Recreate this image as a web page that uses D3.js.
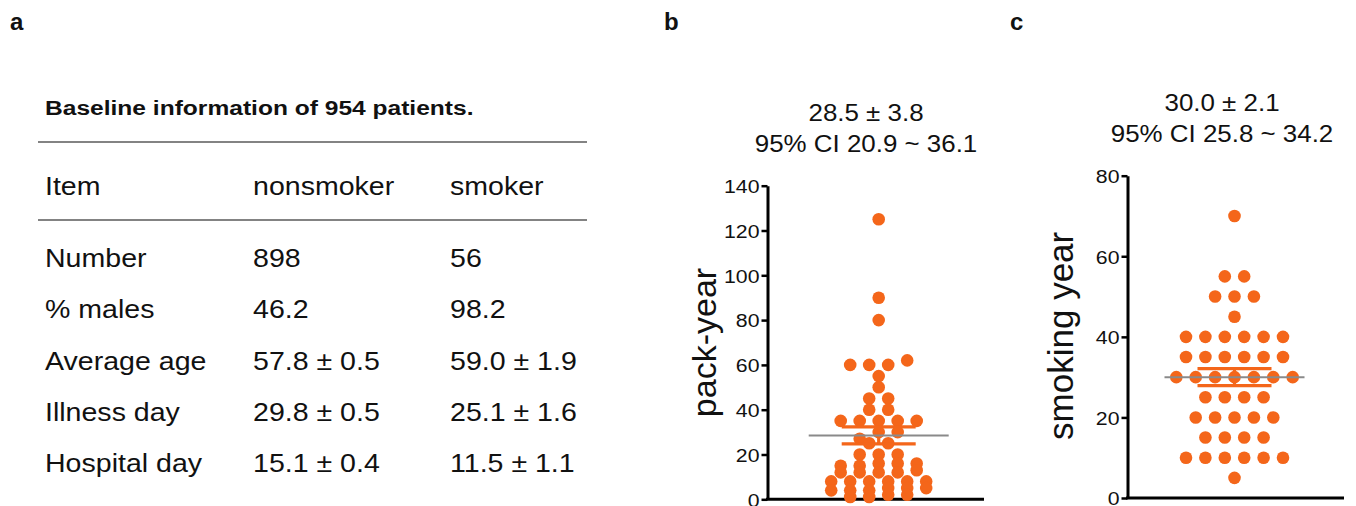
<!DOCTYPE html>
<html><head><meta charset="utf-8">
<script src="https://cdn.jsdelivr.net/npm/d3@7"></script>
<style>
body{margin:0;background:#fff}
svg{display:block}
text{font-family:"Liberation Sans",Arial,Helvetica,sans-serif;fill:#111}
</style></head>
<body><svg id="chart" width="1356" height="506"></svg>
<script>
// ---------- data ----------
const panelLetters = ["a", "b", "c"];
const tableTitle = "Baseline information of 954 patients.";
const tableHeader = ["Item", "nonsmoker", "smoker"];
const tableItems = ["Number", "% males", "Average age", "Illness day", "Hospital day"];
const nonsmokerValues = ["898", "46.2", "57.8 \u00b1 0.5", "29.8 \u00b1 0.5", "15.1 \u00b1 0.4"];
const smokerValues = ["56", "98.2", "59.0 \u00b1 1.9", "25.1 \u00b1 1.6", "11.5 \u00b1 1.1"];

const packYear = [125, 90, 80, 62, 60, 60, 60, 55, 50, 45, 45, 40, 40,
  35, 35, 35, 35, 35, 30, 30, 27, 25, 25,
  20, 20, 20, 16, 16, 16, 15, 15, 13, 12, 12, 12, 12,
  8, 8, 8, 8, 8, 8, 5, 5, 5, 4, 4, 4, 2, 2, 1, 1];
const smokingYear = [70, 55, 55, 50, 50, 50, 45,
  40, 40, 40, 40, 40, 40, 35, 35, 35, 35, 35, 35,
  30, 30, 30, 30, 30, 30, 30, 25, 25, 25, 25,
  20, 20, 20, 20, 20, 15, 15, 15, 15, 10, 10, 10, 10, 10, 10, 5];

const packYearTicks = [0, 20, 40, 60, 80, 100, 120, 140];
const smokingYearTicks = [0, 20, 40, 60, 80];
const axisTitles = ["pack-year", "smoking year"];
const summaryMean = [28.5, 30.0];
const summarySem = [3.8, 2.1];
const summaryLine1 = ["28.5 \u00b1 3.8", "30.0 \u00b1 2.1"];
const summaryLine2 = ["95% CI 20.9 ~ 36.1", "95% CI 25.8 ~ 34.2"];

// ---------- drawing ----------
const svg = d3.select("#chart");
const ORANGE = "#F4661A";
const SX = 1.12; // horizontal text stretch of the source figure

function stretchedText(g, x, y, str, opts) {
  const t = g.append("text")
    .attr("transform", `translate(${x},${y}) scale(${opts.sx || SX},1)`)
    .attr("font-size", opts.size)
    .attr("text-anchor", opts.anchor || "start")
    .text(str);
  if (opts.bold) t.attr("font-weight", "bold");
  return t;
}

// panel letters
const letterX = [10, 664, 1010];
panelLetters.forEach((l, i) => stretchedText(svg, letterX[i], 30, l, {size: 24, bold: true, sx: 1.0}));

// ---------- panel a: table ----------
const tg = svg.append("g");
stretchedText(tg, 45, 115, tableTitle, {size: 21, bold: true, sx: 1.17});
tg.selectAll("line.rule").data([142, 220]).join("line")
  .attr("class", "rule").attr("x1", 38).attr("x2", 587)
  .attr("y1", d => d).attr("y2", d => d)
  .attr("stroke", "#5a5a5a").attr("stroke-width", 1.5);
const colX = d3.scaleOrdinal().domain([0, 1, 2]).range([45, 253, 450]);
const TF = {size: 25.5, sx: 1.12};
tableHeader.forEach((h, i) => stretchedText(tg, colX(i), 195, h, TF));
const rowY = d3.scalePoint().domain(tableItems).range([267, 472]);
tableItems.forEach((it, r) => {
  stretchedText(tg, colX(0), rowY(it), it, TF);
  stretchedText(tg, colX(1), rowY(it), nonsmokerValues[r], TF);
  stretchedText(tg, colX(2), rowY(it), smokerValues[r], TF);
});

// ---------- dot plots ----------
function layout(values, binSize, binOffset, cx, spacing) {
  const groups = d3.group(values.map((v, i) => ({v, i})), d => Math.round((d.v - binOffset) / binSize));
  const out = [];
  for (const [, arr] of groups) {
    arr.sort((a, b) => a.v - b.v);
    const n = arr.length;
    arr.forEach((d, k) => out.push({v: d.v, x: cx + (k - (n - 1) / 2) * spacing}));
  }
  return out;
}

function dotPanel(cfg) {
  const g = svg.append("g");
  const y = d3.scaleLinear().domain([0, cfg.max]).range([cfg.y0, cfg.y1]);
  // axis
  const ax = g.append("g").attr("transform", `translate(${cfg.axisX},0)`)
    .call(d3.axisLeft(y).tickValues(cfg.ticks).tickSize(6).tickSizeOuter(0).tickPadding(2));
  ax.select(".domain").attr("stroke", "#000").attr("stroke-width", 3);
  ax.selectAll(".tick line").attr("stroke", "#000").attr("stroke-width", 2.5);
  ax.selectAll(".tick text").each(function (d) {
    const t = d3.select(this);
    t.attr("font-size", 19).attr("font-family", null).attr("fill", "#111")
      .attr("transform", `translate(-8,0) scale(${SX},1)`).attr("x", 0).attr("dy", "0.36em");
  });
  // baseline
  g.append("line").attr("x1", cfg.axisX - 1.5).attr("x2", cfg.baseEnd)
    .attr("y1", y(0)).attr("y2", y(0)).attr("stroke", "#000").attr("stroke-width", 3);
  // axis title
  g.append("text").attr("transform", `translate(${cfg.titleX},${(cfg.y0 + cfg.y1) / 2 + cfg.titleDy}) rotate(-90)`)
    .attr("text-anchor", "middle").attr("font-size", cfg.titleSize).text(cfg.title);
  // dots
  const pts = layout(cfg.values, cfg.binSize, cfg.binOffset, cfg.cx, cfg.spacing);
  g.selectAll("circle").data(pts).join("circle")
    .attr("cx", d => d.x).attr("cy", d => y(d.v)).attr("r", 6.3).attr("fill", ORANGE);
  // SEM error bar
  const m = cfg.mean, s = cfg.sem;
  g.append("path").attr("fill", "none").attr("stroke", ORANGE).attr("stroke-width", 3.2)
    .attr("d", `M${cfg.cx - 37},${y(m + s)}H${cfg.cx + 37}M${cfg.cx},${y(m + s)}V${y(m - s)}M${cfg.cx - 37},${y(m - s)}H${cfg.cx + 37}`);
  // mean line
  g.append("line").attr("x1", cfg.cx - 70).attr("x2", cfg.cx + 70)
    .attr("y1", y(m)).attr("y2", y(m)).attr("stroke", "#8a8a8a").attr("stroke-width", 2);
  // summary text
  stretchedText(g, cfg.textX, cfg.textY, cfg.line1, {size: 24, anchor: "middle", sx: 1.08});
  stretchedText(g, cfg.textX, cfg.textY + 31, cfg.line2, {size: 24, anchor: "middle", sx: 1.08});
}

dotPanel({values: packYear, max: 140, ticks: packYearTicks, y0: 499.3, y1: 185.7,
  axisX: 767.5, baseEnd: 984, cx: 878.7, spacing: 19, binSize: 4, binOffset: 1,
  title: axisTitles[0], titleX: 716, titleDy: 0, titleSize: 34,
  mean: summaryMean[0], sem: summarySem[0], line1: summaryLine1[0], line2: summaryLine2[0],
  textX: 866, textY: 121});
dotPanel({values: smokingYear, max: 80, ticks: smokingYearTicks, y0: 498, y1: 175.7,
  axisX: 1127.5, baseEnd: 1344, cx: 1234.5, spacing: 19.4, binSize: 5, binOffset: 0,
  title: axisTitles[1], titleX: 1073, titleDy: -1, titleSize: 35,
  mean: summaryMean[1], sem: summarySem[1], line1: summaryLine1[1], line2: summaryLine2[1],
  textX: 1222, textY: 111});
</script></body></html>
